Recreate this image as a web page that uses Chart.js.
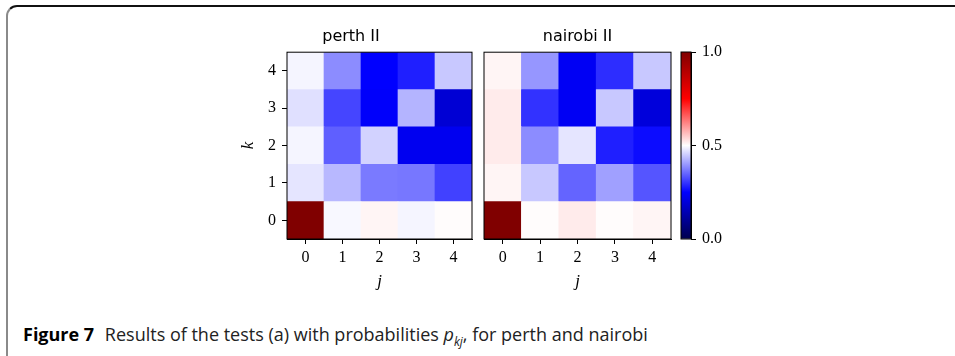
<!DOCTYPE html>
<html>
<head>
<meta charset="utf-8">
<script src="https://cdn.jsdelivr.net/npm/chart.js@4.4.0/dist/chart.umd.min.js"></script>
<style>
  html, body { margin: 0; padding: 0; background: #fff; }
  body { width: 955px; height: 356px; position: relative; overflow: hidden; }
  .box {
    position: absolute; left: 6px; top: 5px; width: 1000px; height: 400px;
    border-top: 2px solid #111; border-left: 2px solid #8a8a8a;
    border-top-left-radius: 11px; box-sizing: border-box;
  }
  .plot { position: absolute; }
  .caption {
    position: absolute; left: 23px; top: 322px; white-space: nowrap;
    font-family: "Open Sans", "Noto Sans", sans-serif; font-size: 18px; color: #222;
    letter-spacing: 0;
  }
  .caption b { color: #000; margin-right: 6px; }
</style>
</head>
<body>
<div class="box"></div>

<div class="plot" style="left:230px; top:20px; width:250px; height:280px;"><canvas id="perth"></canvas></div>
<div class="plot" style="left:470px; top:20px; width:210px; height:280px;"><canvas id="nairobi"></canvas></div>
<div class="plot" style="left:672px; top:20px; width:80px; height:280px;"><canvas id="cbar"></canvas></div>

<div class="caption"><b>Figure 7</b> Results of the tests (a) with probabilities <i>p</i><sub style="font-size:12px"><i>kj</i></sub>, for perth and nairobi</div>

<script>
// grille j (colonnes) x k (lignes)
const jLabels = ['0', '1', '2', '3', '4']
const kLabels = ['0', '1', '2', '3', '4']

// p_kj, une ligne par k (k = 0 en bas)
const perthRows = [
  [1.00, 0.493, 0.510, 0.490, 0.503],
  [0.475, 0.430, 0.370, 0.367, 0.314],
  [0.490, 0.343, 0.456, 0.229, 0.229],
  [0.470, 0.318, 0.245, 0.426, 0.190],
  [0.490, 0.387, 0.250, 0.280, 0.446]
]
const nairobiRows = [
  [1.00, 0.503, 0.520, 0.503, 0.510],
  [0.510, 0.446, 0.348, 0.407, 0.333],
  [0.520, 0.387, 0.475, 0.280, 0.262],
  [0.520, 0.299, 0.235, 0.446, 0.200],
  [0.510, 0.397, 0.235, 0.294, 0.446]
]

const cbarTicks = [0, 0.5, 1]

// colormap "seismic" de matplotlib
const seismic = [[0, 0, 0.3], [0, 0, 1], [1, 1, 1], [1, 0, 0], [0.5, 0, 0]]

function couleur(v) {
  let t = Math.min(Math.max(v, 0), 1) * 4
  let i = Math.min(Math.floor(t), 3)
  let f = t - i
  let c = seismic[i].map((a, n) => Math.round(255 * (a + (seismic[i + 1][n] - a) * f)))
  return `rgb(${c[0]},${c[1]},${c[2]})`
}

const serif = { family: '"Liberation Serif", "DejaVu Serif", serif', size: 16 }

// cadre noir autour de la zone du graphe
const cadre = {
  id: 'cadre',
  afterDatasetsDraw(chart) {
    const a = chart.chartArea
    const ctx = chart.ctx
    ctx.save()
    ctx.strokeStyle = '#000'
    ctx.lineWidth = 1
    ctx.strokeRect(a.left, a.top, a.right - a.left, a.bottom - a.top)
    ctx.restore()
  }
}

const traits = {
  display: true, drawOnChartArea: false, drawTicks: true,
  tickLength: 5, tickColor: '#000', tickWidth: 1, offset: false
}

function heatmap(id, titre, rows, avecK, padLeft, padRight) {
  const datasets = rows.map((row, k) => ({
    label: 'k=' + k,
    data: row.map(() => [k, k + 1]),
    backgroundColor: row.map(couleur),
    borderWidth: 0,
    barPercentage: 1,
    categoryPercentage: 1,
    grouped: false
  }))

  return new Chart(document.getElementById(id), {
    type: 'bar',
    data: { labels: jLabels, datasets: datasets },
    options: {
      responsive: true,
      maintainAspectRatio: false,
      animation: false,
      events: [],
      layout: { padding: { left: padLeft, right: padRight, top: 0, bottom: 0 } },
      plugins: {
        legend: { display: false },
        tooltip: { enabled: false },
        title: {
          display: true,
          text: titre,
          color: '#000',
          font: { family: '"DejaVu Sans", sans-serif', size: 16, weight: 'normal' },
          padding: { top: 7, bottom: 6 }
        }
      },
      scales: {
        x: {
          type: 'category',
          offset: true,
          grid: traits,
          border: { display: true, color: '#000', width: 1 },
          ticks: { color: '#000', font: serif, padding: 4, maxRotation: 0 },
          title: {
            display: true, text: 'j', color: '#000',
            font: { family: serif.family, size: 17, style: 'italic' },
            padding: { top: 0, bottom: 8 }
          },
          afterFit: (s) => { s.height = 61 }
        },
        y: {
          type: 'linear',
          display: avecK,
          min: 0,
          max: 5,
          grid: traits,
          border: { display: true, color: '#000', width: 1 },
          afterBuildTicks: (s) => { s.ticks = kLabels.map((_, i) => ({ value: i + 0.5 })) },
          ticks: {
            color: '#000', font: serif, padding: 6,
            callback: (v) => kLabels[Math.floor(v)]
          },
          title: {
            display: true, text: 'k', color: '#000',
            font: { family: serif.family, size: 17, style: 'italic' },
            padding: { top: 8, bottom: 0 }
          },
          afterFit: (s) => { s.width = avecK ? 57 : 0 }
        }
      }
    },
    plugins: [cadre]
  })
}

heatmap('perth', 'perth II', perthRows, true, 0, 8)
heatmap('nairobi', 'nairobi II', nairobiRows, false, 14, 9)

// barre de couleurs
new Chart(document.getElementById('cbar'), {
  type: 'bar',
  data: {
    labels: [''],
    datasets: [{
      data: [[0, 1]],
      borderWidth: 0,
      barPercentage: 1,
      categoryPercentage: 1,
      backgroundColor: (ctx) => {
        const a = ctx.chart.chartArea
        if (!a) return '#fff'
        const g = ctx.chart.ctx.createLinearGradient(0, a.bottom, 0, a.top)
        seismic.forEach((c, i) => g.addColorStop(i / 4, couleur(i / 4)))
        return g
      }
    }]
  },
  options: {
    responsive: true,
    maintainAspectRatio: false,
    animation: false,
    events: [],
    layout: { padding: { left: 9, right: 0, top: 32, bottom: 61 } },
    plugins: { legend: { display: false }, tooltip: { enabled: false } },
    scales: {
      x: { display: false, offset: true },
      y: {
        position: 'right',
        min: 0,
        max: 1,
        grid: traits,
        border: { display: true, color: '#000', width: 1 },
        afterBuildTicks: (s) => { s.ticks = cbarTicks.map(v => ({ value: v })) },
        ticks: { color: '#000', font: serif, padding: 6, callback: (v) => v.toFixed(1) },
        afterFit: (s) => { s.width = 61 }
      }
    }
  },
  plugins: [cadre]
})
</script>
</body>
</html>
